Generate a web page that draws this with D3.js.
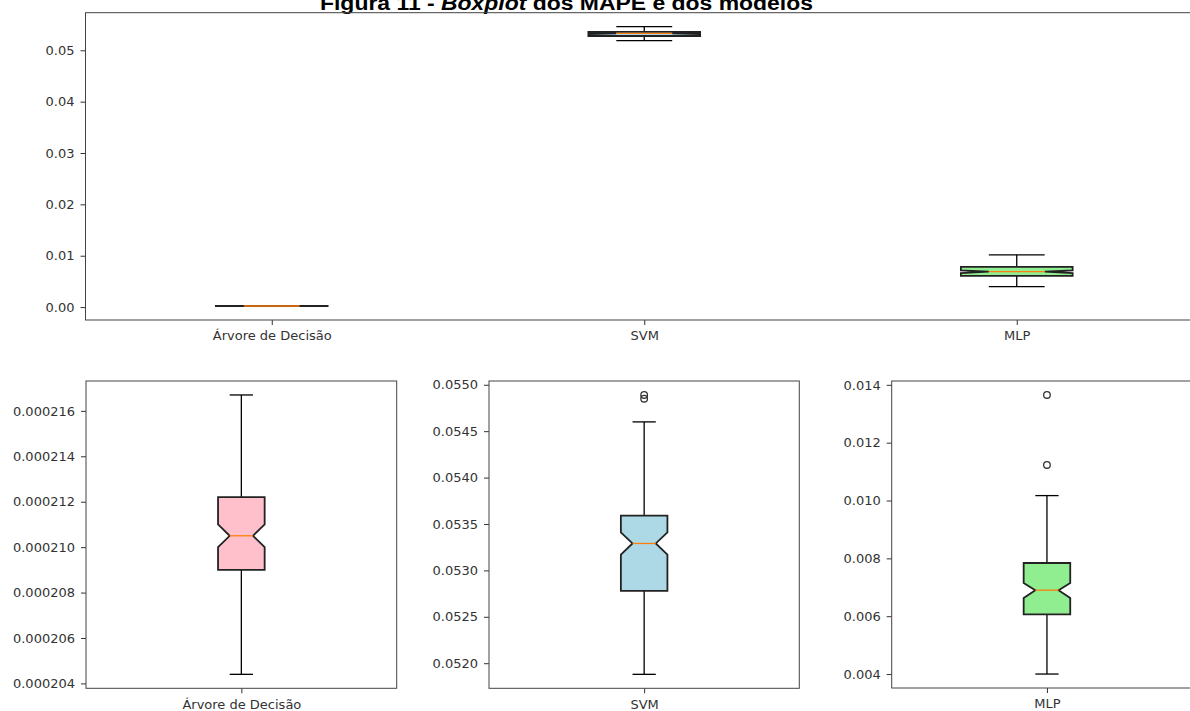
<!DOCTYPE html>
<html>
<head>
<meta charset="utf-8">
<script src="https://cdn.jsdelivr.net/npm/d3@7"></script>
<style>
  html, body { margin: 0; padding: 0; background: #fff; }
  svg { display: block; }
  .tick text { font-family: "DejaVu Sans", sans-serif; font-size: 13px; fill: #333; }
</style>
</head>
<body>
<svg id="chart" width="1190" height="711"></svg>
<script>
// Model names and box colours
const models = ["Árvore de Decisão", "SVM", "MLP"];
const boxColors = ["pink", "lightblue", "lightgreen"];

// Box statistics of the MAPE per model
const whiskerLow  = [0.0002044, 0.05188, 0.00400];
const q1          = [0.000209,  0.05278, 0.00606];
const notchLow    = [0.00021,   0.05317, 0.00663];
const median      = [0.0002105, 0.05329, 0.00690];
const notchHigh   = [0.000211,  0.05341, 0.00715];
const q3          = [0.0002122, 0.05359, 0.00784];
const whiskerHigh = [0.0002167, 0.05460, 0.01017];
const outliers    = [[], [0.05489, 0.05485], [0.01365, 0.01123]];

// Tick values of each panel
const overviewTicks = [0, 0.01, 0.02, 0.03, 0.04, 0.05];
const treeTicks = [0.000204, 0.000206, 0.000208, 0.000210, 0.000212, 0.000214, 0.000216];
const svmTicks = [0.0520, 0.0525, 0.0530, 0.0535, 0.0540, 0.0545, 0.0550];
const mlpTicks = [0.004, 0.006, 0.008, 0.010, 0.012, 0.014];

const svg = d3.select("#chart");

const stats = models.map((name, i) => ({
  name, color: boxColors[i],
  whislo: whiskerLow[i], q1: q1[i], cilo: notchLow[i], med: median[i],
  cihi: notchHigh[i], q3: q3[i], whishi: whiskerHigh[i], fliers: outliers[i]
}));

// Title
svg.append("text")
  .attr("x", 320).attr("y", 10)
  .attr("textLength", 493)
  .attr("lengthAdjust", "spacingAndGlyphs")
  .style("font-family", "'Liberation Sans', Arial, sans-serif")
  .style("font-size", "20px").style("font-weight", "bold").style("fill", "#000")
  .call(t => {
    t.append("tspan").text("Figura 11 - ");
    t.append("tspan").style("font-style", "italic").text("Boxplot");
    t.append("tspan").text(" dos MAPE e dos modelos");
  });

// Draws one boxplot panel
function panel({left, top, width, height, items, ticks, fmt, showFliers}) {
  const g = svg.append("g").attr("transform", `translate(${left},${top})`);
  const vals = [];
  items.forEach(d => {
    vals.push(d.whislo, d.whishi);
    if (showFliers) vals.push(...d.fliers);
  });
  const lo = d3.min(vals), hi = d3.max(vals), pad = (hi - lo) * 0.05;
  const y = d3.scaleLinear().domain([lo - pad, hi + pad]).range([height, 0]);
  const n = items.length;
  const x = d3.scaleLinear().domain([0.5, n + 0.5]).range([0, width]);
  const bw = n > 1 ? Math.min(Math.max(0.15 * (n - 1), 0.15), 0.5) : 0.15;

  const yAxis = g.append("g")
    .call(d3.axisLeft(y).tickValues(ticks).tickFormat(fmt).tickSize(5).tickPadding(6));
  yAxis.select(".domain").remove();
  yAxis.selectAll(".tick line").attr("stroke", "#333");

  const xAxis = g.append("g").attr("transform", `translate(0,${height})`)
    .call(d3.axisBottom(x).tickValues(d3.range(1, n + 1))
      .tickFormat(i => items[i - 1].name).tickSize(5).tickPadding(6));
  xAxis.select(".domain").remove();
  xAxis.selectAll(".tick line").attr("stroke", "#333");

  items.forEach((d, i) => {
    const p = i + 1;
    const bl = x(p - bw / 2), br = x(p + bw / 2);
    const nl = x(p - bw / 4), nr = x(p + bw / 4);
    const cl = x(p - bw / 4), cr = x(p + bw / 4);
    const cx = x(p);
    const bg = g.append("g");
    // whiskers
    bg.append("line").attr("x1", cx).attr("x2", cx).attr("y1", y(d.q1)).attr("y2", y(d.whislo))
      .attr("stroke", "#000").attr("stroke-width", 1.3);
    bg.append("line").attr("x1", cx).attr("x2", cx).attr("y1", y(d.q3)).attr("y2", y(d.whishi))
      .attr("stroke", "#000").attr("stroke-width", 1.3);
    // caps
    [d.whislo, d.whishi].forEach(v => bg.append("line")
      .attr("x1", cl).attr("x2", cr).attr("y1", y(v)).attr("y2", y(v))
      .attr("stroke", "#000").attr("stroke-width", 1.3));
    // notched box
    const pts = [[bl, d.q1], [br, d.q1], [br, d.cilo], [nr, d.med], [br, d.cihi], [br, d.q3],
                 [bl, d.q3], [bl, d.cihi], [nl, d.med], [bl, d.cilo]];
    bg.append("path")
      .attr("d", d3.line().x(q => q[0]).y(q => y(q[1]))(pts) + "Z")
      .attr("fill", d.color).attr("stroke", "#222").attr("stroke-width", 1.8)
      .attr("stroke-linejoin", "miter");
    // median
    bg.append("line").attr("x1", nl).attr("x2", nr).attr("y1", y(d.med)).attr("y2", y(d.med))
      .attr("stroke", "#ff7f0e").attr("stroke-width", 1.3);
    if (showFliers) {
      d.fliers.forEach(v => bg.append("circle").attr("cx", cx).attr("cy", y(v)).attr("r", 3.3)
        .attr("fill", "none").attr("stroke", "#333").attr("stroke-width", 1.3));
    }
  });

  // frame
  g.append("rect").attr("x", 0).attr("y", 0).attr("width", width).attr("height", height)
    .attr("fill", "none").attr("stroke", "#444").attr("stroke-width", 1);
}

panel({left: 85.5, top: 12.7, width: 1117.5, height: 307.3, items: stats,
       ticks: overviewTicks, fmt: d3.format(".2f"), showFliers: false});
panel({left: 86, top: 381, width: 310.7, height: 307.3, items: [stats[0]],
       ticks: treeTicks, fmt: d3.format(".6f"), showFliers: true});
panel({left: 489, top: 381, width: 310.3, height: 307.3, items: [stats[1]],
       ticks: svmTicks, fmt: d3.format(".4f"), showFliers: true});
panel({left: 891.7, top: 381, width: 310.5, height: 307, items: [stats[2]],
       ticks: mlpTicks, fmt: d3.format(".3f"), showFliers: true});
</script>
</body>
</html>
